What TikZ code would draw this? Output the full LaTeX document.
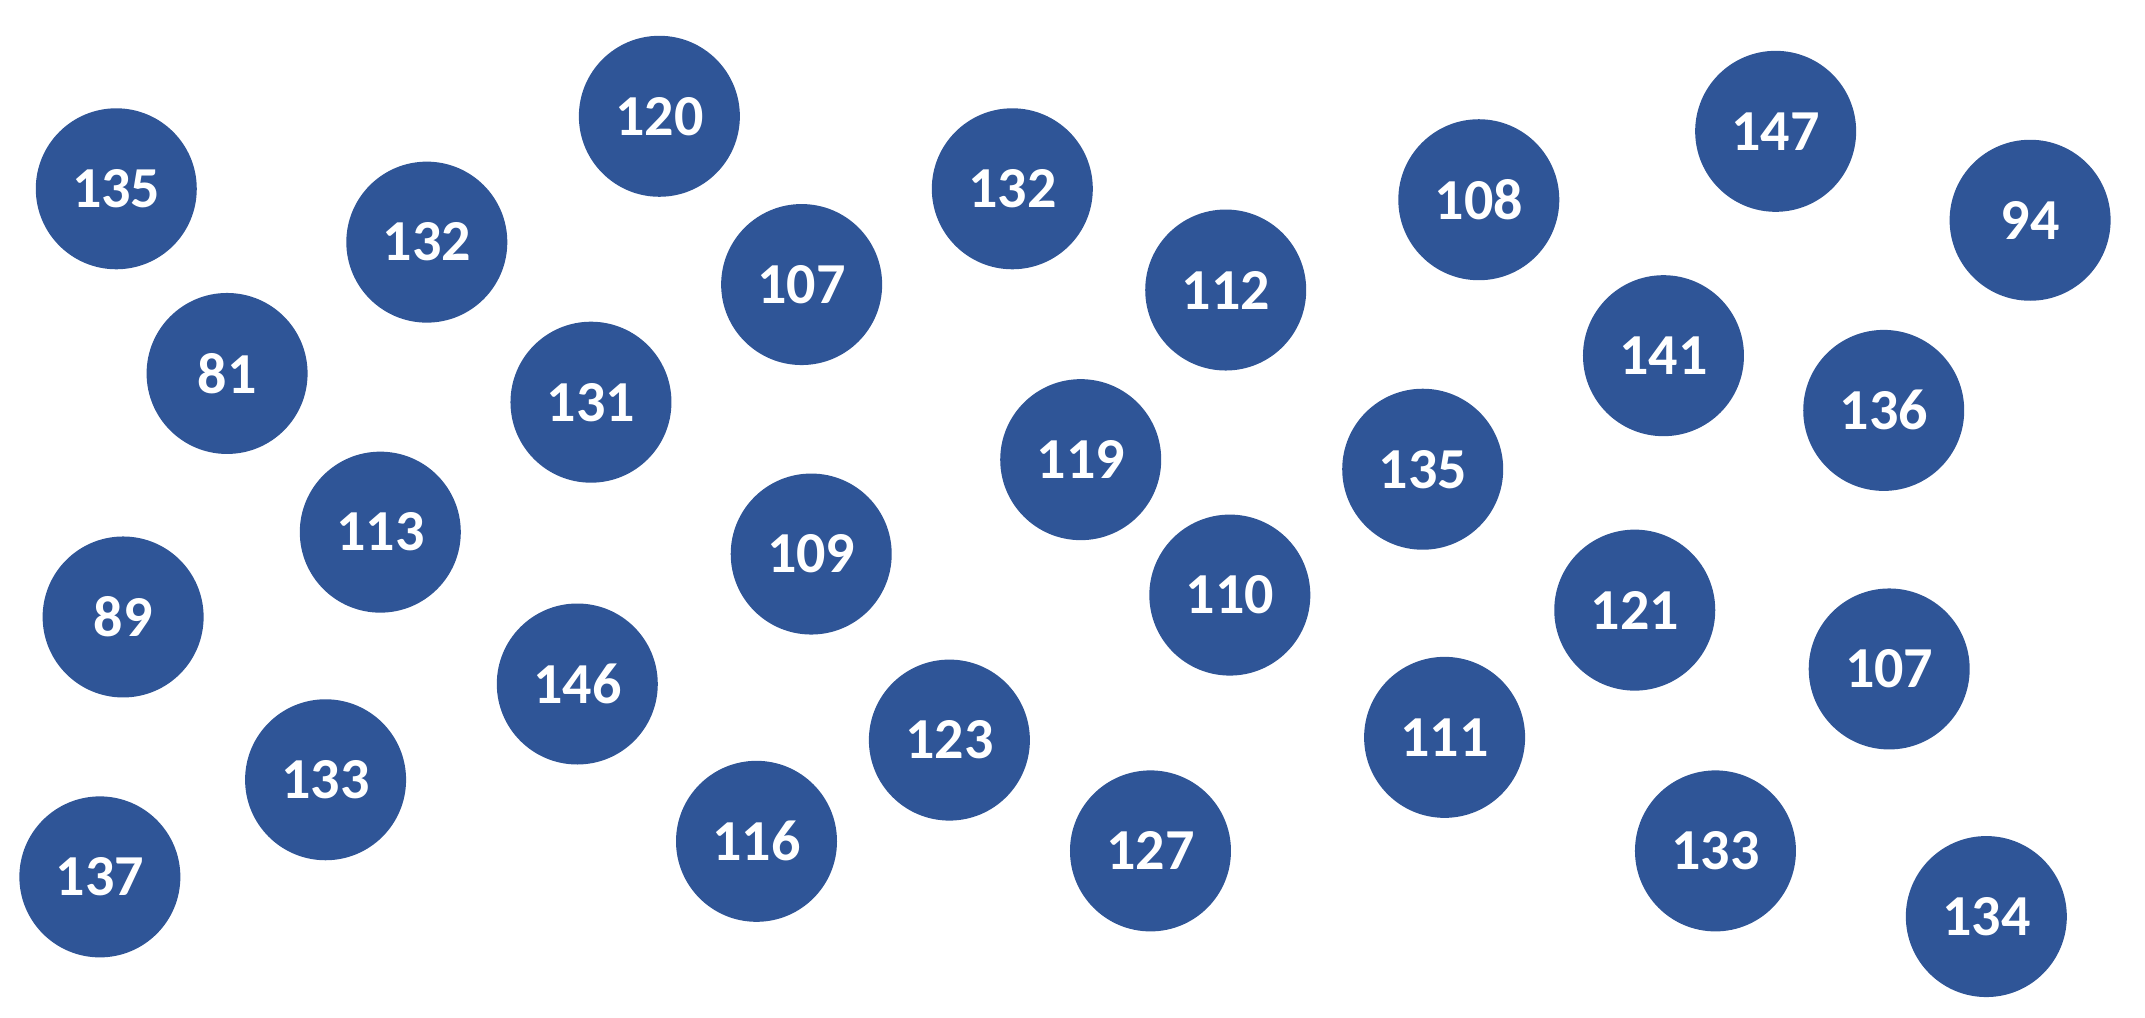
\documentclass[tikz,border=0pt]{standalone}
\usepackage{fontspec}
\setmainfont{Carlito}
\definecolor{ballblue}{HTML}{2F5597}
\begin{document}
\begin{tikzpicture}[x=1.368pt,y=-1.368pt,
  ball/.style={circle,fill=ballblue,draw=none,minimum size=161pt,inner sep=0pt,
    text=white,font=\fontsize{58}{58}\selectfont\bfseries}]
\useasboundingbox (0,0) rectangle (1568,744);
\node[ball] (n1) at (85,138) {135};
\node[ball] (n2) at (312,177) {132};
\node[ball] (n3) at (482,85) {120};
\node[ball] (n4) at (166,273) {81};
\node[ball] (n5) at (432,294) {131};
\node[ball] (n6) at (586,208) {107};
\node[ball] (n7) at (740,138) {132};
\node[ball] (n8) at (896,212) {112};
\node[ball] (n9) at (1081,146) {108};
\node[ball] (n10) at (1298,96) {147};
\node[ball] (n11) at (1484,161) {94};
\node[ball] (n12) at (1216,260) {141};
\node[ball] (n13) at (1377,300) {136};
\node[ball] (n14) at (278,389) {113};
\node[ball] (n15) at (90,451) {89};
\node[ball] (n16) at (790,336) {119};
\node[ball] (n17) at (1040,343) {135};
\node[ball] (n18) at (593,405) {109};
\node[ball] (n19) at (899,435) {110};
\node[ball] (n20) at (1195,446) {121};
\node[ball] (n21) at (1381,489) {107};
\node[ball] (n22) at (422,500) {146};
\node[ball] (n23) at (238,570) {133};
\node[ball] (n24) at (694,541) {123};
\node[ball] (n25) at (1056,539) {111};
\node[ball] (n26) at (73,641) {137};
\node[ball] (n27) at (553,615) {116};
\node[ball] (n28) at (841,622) {127};
\node[ball] (n29) at (1254,622) {133};
\node[ball] (n30) at (1452,670) {134};
\end{tikzpicture}
\end{document}
